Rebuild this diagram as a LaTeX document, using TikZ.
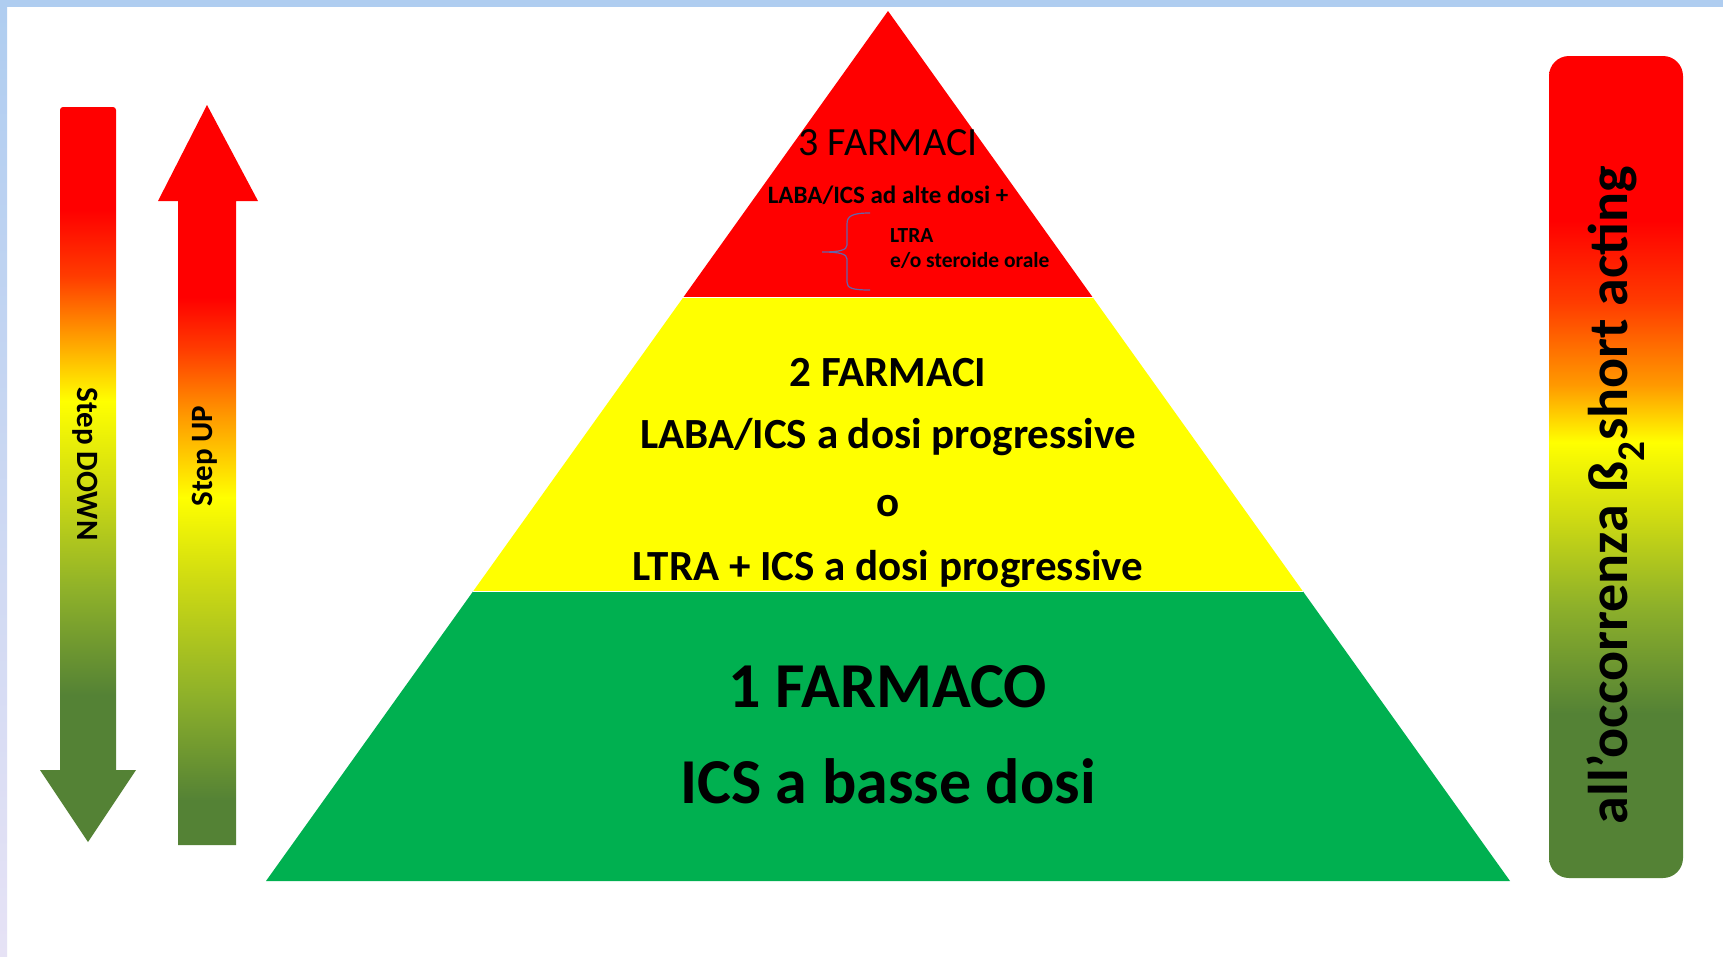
\documentclass[tikz,border=0pt]{standalone}
\usepackage{fontspec}
\setmainfont{Carlito}
\usetikzlibrary{calc}

\definecolor{tiergreen}{HTML}{00B050}
\definecolor{tieryellow}{HTML}{FFFF00}
\definecolor{tierred}{HTML}{FF0000}
\definecolor{darkgreen}{HTML}{548235}
\definecolor{olivegreen}{HTML}{8DB02A}
\definecolor{limegreen}{HTML}{CFDB12}
\definecolor{orangeshade}{HTML}{FF9900}
\definecolor{redorange}{HTML}{FF3C00}
\definecolor{bracecol}{HTML}{6464AA}
\definecolor{framecol}{HTML}{AFCDF0}
\definecolor{framelow}{HTML}{E6E2F5}

\pgfdeclareverticalshading{downshade}{100bp}{color(0bp)=(darkgreen); color(25bp)=(darkgreen); color(35bp)=(darkgreen); color(42bp)=(olivegreen); color(49bp)=(limegreen); color(55bp)=(tieryellow); color(59.5bp)=(orangeshade); color(63.5bp)=(redorange); color(68bp)=(tierred); color(100bp)=(tierred)}
\pgfdeclareverticalshading{upshade}{100bp}{color(0bp)=(darkgreen); color(25bp)=(darkgreen); color(28bp)=(darkgreen); color(35bp)=(olivegreen); color(43bp)=(limegreen); color(48.5bp)=(tieryellow); color(54bp)=(orangeshade); color(58.5bp)=(redorange); color(62bp)=(tierred); color(100bp)=(tierred)}
\pgfdeclareverticalshading{barshade}{100bp}{color(0bp)=(darkgreen); color(25bp)=(darkgreen); color(35bp)=(darkgreen); color(41.5bp)=(olivegreen); color(47bp)=(limegreen); color(51.5bp)=(tieryellow); color(55bp)=(orangeshade); color(60bp)=(redorange); color(65bp)=(tierred); color(100bp)=(tierred)}

\tikzset{
  tiertext/.style={anchor=base, font=\fontsize{43}{50}\selectfont\bfseries},
  bigtext/.style={anchor=base, font=\fontsize{64}{74}\selectfont\bfseries},
  steptext/.style={anchor=base, font=\fontsize{31}{36}\selectfont\bfseries},
  smalltext/.style={anchor=base west, inner xsep=0pt, font=\fontsize{21.5}{26}\selectfont\bfseries},
  separator/.style={white, line width=1.2}
}

\begin{document}
\begin{tikzpicture}[x=1pt, y=-1pt]
	\useasboundingbox (0,0) rectangle (1723,956);
	\fill[white] (0,0) rectangle (1723,956);
	\fill[framecol] (0,0) rectangle (1723,7);
	\shade[top color=framecol, bottom color=framelow] (0,0) rectangle (7,956);

	\coordinate (apex) at (888,11);
	\coordinate (bl) at (266,881);
	\coordinate (br) at (1510,881);
	\coordinate (r1l) at ($(apex)!0.329!(bl)$);
	\coordinate (r1r) at ($(apex)!0.329!(br)$);
	\coordinate (r2l) at ($(apex)!0.667!(bl)$);
	\coordinate (r2r) at ($(apex)!0.667!(br)$);
	\fill[tierred] (apex) -- (r1r) -- (r1l) -- cycle;
	\fill[tieryellow] (r1l) -- (r1r) -- (r2r) -- (r2l) -- cycle;
	\fill[tiergreen] (r2l) -- (r2r) -- (br) -- (bl) -- cycle;
	\draw[separator] (r1l) -- (r1r);
	\draw[separator] (r2l) -- (r2r);

	\node (three) at (888,155) [anchor=base, font=\fontsize{40}{48}\selectfont] {3 FARMACI};
	\node (threesub) at (888,203) [anchor=base, font=\fontsize{25}{30}\selectfont\bfseries] {LABA/ICS ad alte dosi +};
	\node (ltra) at (890,242) [smalltext] {LTRA};
	\node (oral) at (890,267) [smalltext] {e/o steroide orale};
	\draw[bracecol, line width=1.2] (870,213) .. controls (852,213) and (847,216) .. (847,224) -- (847,245)
		.. controls (847,250) and (840,252) .. (822,252) .. controls (840,252) and (847,254) .. (847,259)
		-- (847,282) .. controls (847,288) and (852,290) .. (870,290);

	\node (two) at (888,386) [tiertext] {2 FARMACI};
	\node (twoa) at (888,448) [tiertext] {LABA/ICS a dosi progressive};
	\node (twoor) at (888,516) [tiertext] {o};
	\node (twob) at (888,580) [tiertext] {LTRA + ICS a dosi progressive};

	\node (one) at (888,707) [bigtext] {1 FARMACO};
	\node (onesub) at (888,803) [bigtext] {ICS a basse dosi};

	\shade[shading=downshade] (60,770) [rounded corners=3] -- (60,107) -- (116,107) [sharp corners] -- (116,770)
		-- (136,770) -- (88,842) -- (40,770) -- cycle;
	\node (stepdown) at (77,464) [steptext, rotate=-90] {Step DOWN};

	\shade[shading=upshade] (178,845) -- (178,201) -- (158,201) -- (207,105) -- (258,201) -- (236,201)
		-- (236,845) -- cycle;
	\node (stepup) at (212,456) [steptext, rotate=90] {Step UP};

	\shade[shading=barshade, rounded corners=20] (1549,56) rectangle (1683,878);
	\node (reliever) at (1627,495) [anchor=base, rotate=90, font=\fontsize{56}{66}\selectfont\bfseries] {all’occorrenza ß\textsubscript{2}short acting};
\end{tikzpicture}
\end{document}
